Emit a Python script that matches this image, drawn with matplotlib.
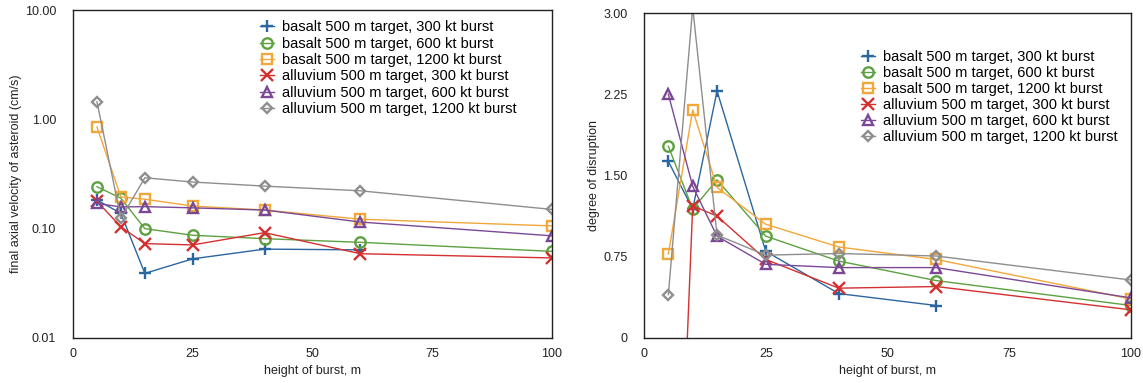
import matplotlib
matplotlib.use("Agg")
import matplotlib.pyplot as plt
from matplotlib.ticker import FixedLocator, FixedFormatter

plt.rcParams['font.family'] = ['Liberation Sans', 'DejaVu Sans']

heights = [5, 10, 15, 25, 40, 60, 100]
labels = ["basalt 500 m target, 300 kt burst",
          "basalt 500 m target, 600 kt burst",
          "basalt 500 m target, 1200 kt burst",
          "alluvium 500 m target, 300 kt burst",
          "alluvium 500 m target, 600 kt burst",
          "alluvium 500 m target, 1200 kt burst"]

# final axial velocity (cm/s)
vel_basalt_300 = [0.183, 0.138, 0.039, 0.053, 0.065, 0.064]
vel_basalt_600 = [0.242, 0.19, 0.10, 0.087, 0.081, 0.075, 0.062]
vel_basalt_1200 = [0.85, 0.195, 0.186, 0.161, 0.148, 0.122, 0.106]
vel_alluvium_300 = [0.178, 0.104, 0.073, 0.071, 0.092, 0.059, 0.054]
vel_alluvium_600 = [0.17, 0.158, 0.159, 0.155, 0.148, 0.115, 0.086]
vel_alluvium_1200 = [1.45, 0.124, 0.292, 0.267, 0.245, 0.222, 0.150]

# degree of disruption
dis_basalt_300 = [1.63, 1.19, 2.28, 0.80, 0.41, 0.30]
dis_basalt_600 = [1.77, 1.19, 1.46, 0.94, 0.71, 0.53, 0.30]
dis_basalt_1200 = [0.775, 2.105, 1.39, 1.05, 0.84, 0.725, 0.36]
dis_alluvium_300 = [-4.3, 1.22, 1.125, 0.725, 0.46, 0.475, 0.26]
dis_alluvium_600 = [2.25, 1.40, 0.94, 0.68, 0.65, 0.65, 0.37]
dis_alluvium_1200 = [0.40, 3.05, 0.95, 0.765, 0.78, 0.757, 0.535]

vel = [vel_basalt_300, vel_basalt_600, vel_basalt_1200,
       vel_alluvium_300, vel_alluvium_600, vel_alluvium_1200]
dis = [dis_basalt_300, dis_basalt_600, dis_basalt_1200,
       dis_alluvium_300, dis_alluvium_600, dis_alluvium_1200]

colors = ['#2a66a0', '#5da140', '#f2a73a', '#d43030', '#7b4896', '#8e8e8e']
markers = ['+', 'o', 's', 'x', '^', 'D']
msizes = [8.5, 7.5, 7.5, 8, 7.5, 5.5]

fig = plt.figure(figsize=(11.43, 3.83), dpi=100)
W, H = 1143, 383
ax1 = fig.add_axes([73 / W, (H - 338) / H, (552 - 73) / W, (338 - 10) / H])
ax2 = fig.add_axes([644 / W, (H - 338) / H, (1131 - 644) / W, (338 - 13) / H])

def draw(ax, data):
    for d, c, m, s, lab in zip(data, colors, markers, msizes, labels):
        ax.plot(heights[:len(d)], d, color=c, marker=m, markersize=s,
                markerfacecolor='none', markeredgecolor=c, markeredgewidth=1.7,
                linewidth=1.0, label=lab)

draw(ax1, vel)
draw(ax2, dis)

ax1.set_yscale('log')
ax1.set_ylim(0.01, 10)
ax1.yaxis.set_major_locator(FixedLocator([0.01, 0.1, 1, 10]))
ax1.yaxis.set_major_formatter(FixedFormatter(['0.01', '0.10', '1.00', '10.00']))
ax1.yaxis.set_minor_locator(FixedLocator([]))

ax2.set_ylim(0, 3)
ax2.yaxis.set_major_locator(FixedLocator([0, 0.75, 1.5, 2.25, 3.0]))
ax2.yaxis.set_major_formatter(FixedFormatter(['0', '0.75', '1.50', '2.25', '3.00']))

for ax in (ax1, ax2):
    ax.set_xlim(0, 100)
    ax.set_xticks([0, 25, 50, 75, 100])
    ax.tick_params(axis='x', length=0, labelsize=9, colors='#222222', pad=7)
    ax.tick_params(axis='y', length=0, labelsize=9, colors='#222222', pad=12)
    for sp in ax.spines.values():
        sp.set_linewidth(1.0)
        sp.set_color('#222222')
    ax.set_xlabel('height of burst, m', fontsize=9, color='#222222', labelpad=4)

ax1.set_ylabel('final axial velocity of asteroid (cm/s)', fontsize=9, color='#222222', labelpad=2)
ax2.set_ylabel('degree of disruption', fontsize=9, color='#222222', labelpad=2)

leg_kw = dict(frameon=False, fontsize=10.5, handlelength=1.0, handletextpad=0.55,
              borderaxespad=0.0, borderpad=0.0)
ax1.legend(loc='upper left', bbox_to_anchor=(0.39, 0.968), labelspacing=0.16, **leg_kw)
ax2.legend(loc='upper left', bbox_to_anchor=(0.445, 0.886), labelspacing=0.14, **leg_kw)

fig.savefig('out.png', dpi=100)
